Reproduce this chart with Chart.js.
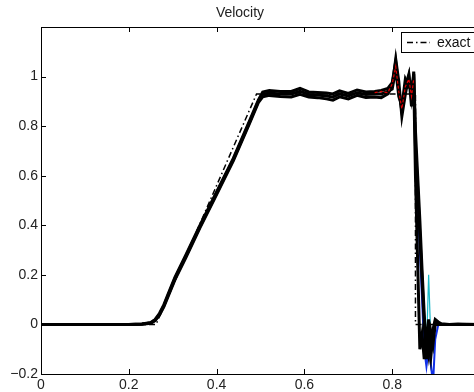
<!DOCTYPE html>
<html>
<head>
<meta charset="utf-8">
<script src="https://cdn.jsdelivr.net/npm/chart.js@4.4.1/dist/chart.umd.min.js"></script>
<style>
  html, body { margin: 0; padding: 0; background: #fff; overflow: hidden; }
  #wrap { width: 474px; height: 392px; overflow: hidden; }
</style>
</head>
<body>
<div id="wrap"><canvas id="velocity-chart" width="500" height="392"></canvas></div>
<script>
// x positions shared by the numerical solutions
const xs = [0, 0.2, 0.23, 0.25, 0.26, 0.27, 0.28, 0.29, 0.305, 0.33,
    0.362, 0.396, 0.438, 0.476, 0.495, 0.505, 0.52, 0.545, 0.57, 0.59,
    0.61, 0.63, 0.65, 0.665, 0.68, 0.70, 0.72, 0.74, 0.76, 0.775,
    0.79, 0.80, 0.808, 0.815, 0.822, 0.83, 0.838, 0.844, 0.849, 0.853,
    0.858, 0.863, 0.868, 0.873, 0.878, 0.883, 0.888, 0.893, 0.898, 0.905,
    0.912, 0.93, 0.95, 0.97, 1.0];

const runA = [0, 0, 0.002, 0.008, 0.02, 0.045, 0.08, 0.125, 0.19, 0.28,
    0.40, 0.52, 0.67, 0.825, 0.905, 0.938, 0.944, 0.94, 0.94, 0.952,
    0.938, 0.936, 0.934, 0.93, 0.942, 0.932, 0.946, 0.938, 0.94, 0.944,
    0.952, 0.975, 1.06, 0.95, 0.86, 0.96, 1.01, 0.92, 1.01, 0.72,
    0.55, 0.36, 0.18, 0.0, -0.14, -0.05, -0.13, -0.04, 0.01, 0.005,
    0, 0, 0.002, 0, 0];

const runB = [0, 0, 0.001, 0.005, 0.015, 0.038, 0.072, 0.115, 0.18, 0.27,
    0.39, 0.51, 0.66, 0.815, 0.895, 0.918, 0.924, 0.92, 0.918, 0.928,
    0.918, 0.915, 0.91, 0.905, 0.918, 0.91, 0.924, 0.916, 0.918, 0.915,
    0.93, 0.96, 1.07, 0.98, 0.84, 0.93, 1.0, 0.88, 1.02, 0.78,
    0.6, 0.42, 0.22, 0.04, -0.1, 0.02, -0.1, -0.02, 0.02, 0.01,
    0.003, 0, 0, 0, 0];

const runC = [0, 0, 0.002, 0.006, 0.018, 0.04, 0.076, 0.12, 0.185, 0.275,
    0.395, 0.515, 0.665, 0.82, 0.9, 0.928, 0.934, 0.93, 0.93, 0.94,
    0.928, 0.926, 0.922, 0.918, 0.93, 0.922, 0.935, 0.928, 0.93, 0.93,
    0.94, 0.95, 1.03, 0.92, 0.88, 0.99, 0.96, 0.97, 0.99, 0.6,
    0.25, -0.1, -0.04, -0.14, -0.06, -0.12, -0.03, -0.08, 0.0, 0.0,
    0, 0, 0, 0.001, 0];

// runs that only differ near the top of the shock or below it
const redX = [0.76, 0.775, 0.79, 0.80, 0.808, 0.815, 0.822, 0.83, 0.838, 0.844, 0.849];
const runRed = [0.935, 0.94, 0.935, 0.97, 1.04, 0.94, 0.87, 0.96, 0.99, 0.92, 0.99];

const shockX = [0.849, 0.853, 0.858, 0.863, 0.868, 0.873, 0.878, 0.883, 0.888, 0.893, 0.898, 0.905, 0.912, 0.93];
const runBlue = [1.0, 0.7, 0.5, 0.3, 0.1, -0.1, -0.17, -0.1, -0.16, -0.24, -0.06, 0.0, 0.0, 0];
const runCyan = [1.0, 0.74, 0.56, 0.38, 0.18, 0.0, -0.11, 0.2, -0.06, -0.1, 0.0, 0.005, 0, 0];

const exactX = [0, 0.262, 0.491, 0.853, 0.853, 1];
const exactY = [0, 0, 0.93, 0.93, 0, 0];

const xTicks = [0, 0.2, 0.4, 0.6, 0.8, 1];
const yTicks = [-0.2, 0, 0.2, 0.4, 0.6, 0.8, 1];

const FONT = '"Liberation Sans", Arial, Helvetica, sans-serif';
const exactDash = [6, 3, 1.5, 3];

function pts(x, y) {
    return x.map((v, i) => ({ x: v, y: y[i] }));
}

function fmt(v) {
    const r = Math.round(v * 10) / 10;
    if (r === 0) return '0';
    return (r < 0 ? '\u2212' : '') + Math.abs(r);
}

const boxTicks = {
    id: 'boxTicks',
    afterDraw(chart) {
        const { ctx, chartArea: a, scales: { x, y } } = chart;
        ctx.save();
        ctx.strokeStyle = '#000';
        ctx.lineWidth = 1;
        ctx.strokeRect(Math.round(a.left) + 0.5, Math.round(a.top) + 0.5,
            Math.round(a.right - a.left), Math.round(a.bottom - a.top));
        ctx.beginPath();
        xTicks.forEach(v => {
            const px = Math.round(x.getPixelForValue(v)) + 0.5;
            ctx.moveTo(px, a.bottom); ctx.lineTo(px, a.bottom - 5);
            ctx.moveTo(px, a.top); ctx.lineTo(px, a.top + 5);
        });
        yTicks.forEach(v => {
            const py = Math.round(y.getPixelForValue(v)) + 0.5;
            ctx.moveTo(a.left, py); ctx.lineTo(a.left + 5, py);
        });
        ctx.stroke();

        // legend box
        const lx = 401, ly = 32, lw = 77, lh = 20;
        ctx.fillStyle = '#fff';
        ctx.fillRect(lx, ly, lw, lh);
        ctx.strokeRect(lx + 0.5, ly + 0.5, lw, lh);
        ctx.beginPath();
        ctx.setLineDash(exactDash);
        ctx.lineWidth = 1.5;
        ctx.moveTo(407, ly + 10.5);
        ctx.lineTo(430, ly + 10.5);
        ctx.stroke();
        ctx.setLineDash([]);
        ctx.fillStyle = '#111';
        ctx.font = '14px ' + FONT;
        ctx.textBaseline = 'middle';
        ctx.fillText('exact', 437, ly + 11);
        ctx.restore();
    }
};

const lineSet = (label, data, color, width, order) => ({
    label: label,
    data: data,
    borderColor: color,
    borderWidth: width,
    pointRadius: 0,
    tension: 0,
    fill: false,
    order: order
});

new Chart(document.getElementById('velocity-chart').getContext('2d'), {
    type: 'line',
    data: {
        datasets: [
            Object.assign(lineSet('exact', pts(exactX, exactY), '#000', 1.5, 0), { borderDash: exactDash }),
            Object.assign(lineSet('run red', pts(redX, runRed), '#e00000', 1.2, 1), { borderDash: [3, 2] }),
            lineSet('run A', pts(xs, runA), '#000', 3, 4),
            lineSet('run B', pts(xs, runB), '#000', 3, 5),
            lineSet('run C', pts(xs, runC), '#000', 3, 6),
            lineSet('run blue', pts(shockX, runBlue), '#1030e8', 2, 7),
            lineSet('run cyan', pts(shockX, runCyan), '#17b8c8', 1.2, 8)
        ]
    },
    options: {
        responsive: false,
        animation: false,
        layout: { padding: { left: 0, right: 20, top: 0, bottom: 0 } },
        plugins: {
            legend: { display: false },
            tooltip: { enabled: false },
            title: {
                display: true,
                text: 'Velocity',
                color: '#222',
                font: { family: FONT, size: 14, weight: 'normal' },
                padding: { top: 5, bottom: 5.2 }
            }
        },
        scales: {
            x: {
                type: 'linear',
                min: 0,
                max: 1,
                grid: { display: false, drawTicks: false },
                border: { display: false },
                afterFit: s => { s.height = 18; },
                afterBuildTicks: s => { s.ticks = xTicks.map(v => ({ value: v })); },
                ticks: {
                    autoSkip: false,
                    maxRotation: 0,
                    padding: 3,
                    color: '#222',
                    font: { family: FONT, size: 14 },
                    callback: v => fmt(v)
                }
            },
            y: {
                type: 'linear',
                min: -0.2,
                max: 1.2,
                grid: { display: false, drawTicks: false },
                border: { display: false },
                afterFit: s => { s.width = 41; },
                afterBuildTicks: s => { s.ticks = yTicks.map(v => ({ value: v })); },
                ticks: {
                    autoSkip: false,
                    padding: 3,
                    color: '#222',
                    font: { family: FONT, size: 14 },
                    callback: v => fmt(v)
                }
            }
        }
    },
    plugins: [boxTicks]
});
</script>
</body>
</html>
